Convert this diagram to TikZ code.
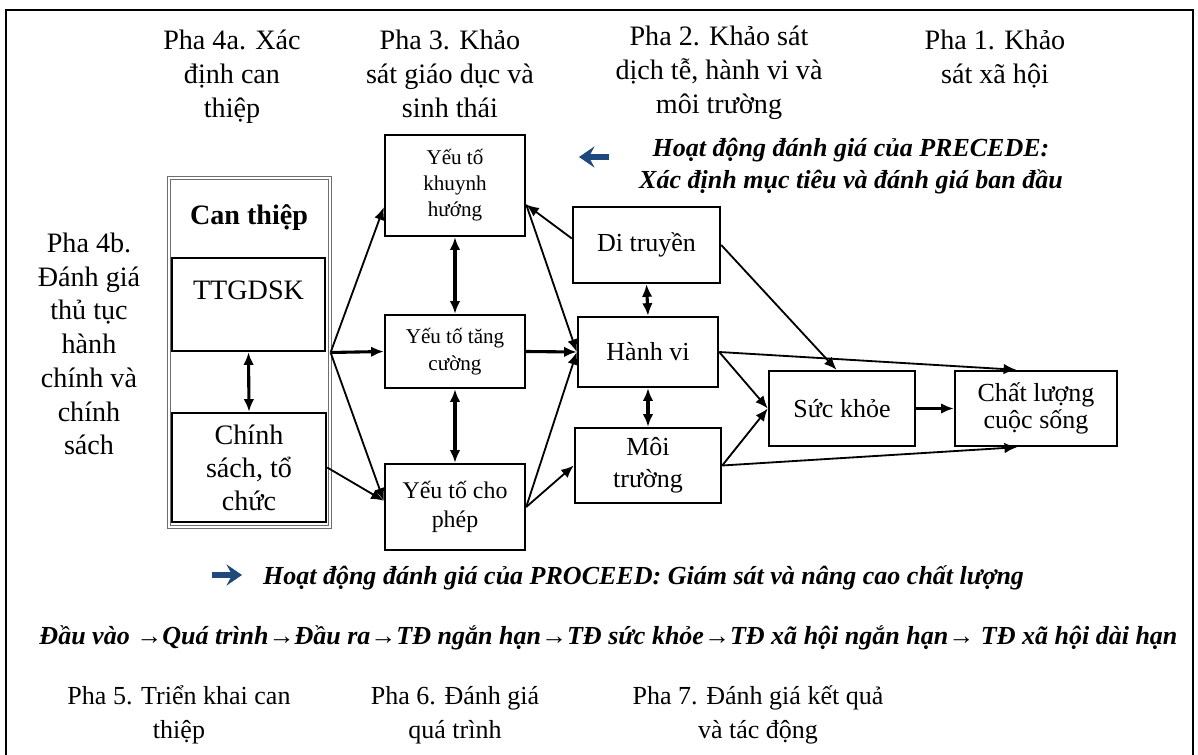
\documentclass[tikz,border=0pt]{standalone}
\usepackage{fontspec}
\setmainfont{Liberation Serif}
\usepackage{xcolor}
\definecolor{Col1}{RGB}{31,73,125}
\definecolor{Col2}{RGB}{110,110,110}
\usepackage{tikz}
\usetikzlibrary{arrows.meta}
\tikzstyle{Box}=[draw=black,line width=1.7pt,inner sep=2pt,align=center,
font=\fontsize{18.5}{23}\selectfont]
\tikzstyle{SmallBox}=[Box,font=\fontsize{15}{18.5}\selectfont]
\tikzstyle{Frame}=[draw=Col2,double,double distance=1.4pt,line width=0.8pt]
\tikzstyle{Edge}=[draw=black,line width=1.3pt,-{Latex[length=9pt,width=7.5pt]}]
\tikzstyle{EdgeThick}=[Edge,line width=2.2pt]
\tikzstyle{EdgeBoth}=[EdgeThick,{Latex[length=9pt,width=7.5pt]}-{Latex[length=9pt,width=7.5pt]}]
\tikzstyle{BlueArrow}=[draw=Col1,line width=3.6pt,-{Stealth[length=11pt,width=15pt,inset=4pt]}]
\tikzstyle{Phase}=[align=center,font=\fontsize{20}{24.3}\selectfont]
\tikzstyle{PhaseLow}=[align=center,font=\fontsize{18.5}{24}\selectfont]
\tikzstyle{Eval}=[align=center,font=\bfseries\itshape\fontsize{18.5}{22.7}\selectfont]

\begin{document}
\begin{tikzpicture}[x=0.025cm,y=-0.025cm]
            \useasboundingbox(0,0)rectangle(1198,755);
            \draw[line width=2pt](6,755)--(6,10)--(1193,10)--(1193,755);
            % phases of PRECEDE
            \node[Phase](pha4a)at(232,77){Pha 4a. Xác\\định can\\thiệp};
            \node[Phase](pha3)at(450,74){Pha 3. Khảo\\sát giáo dục và\\sinh thái};
            \node[Phase](pha2)at(719,73){Pha 2. Khảo sát\\dịch tễ, hành vi và\\môi trường};
            \node[Phase](pha1)at(995,59){Pha 1. Khảo\\sát xã hội};
            \node[Phase,font=\fontsize{20}{24}\selectfont](pha4b)at(89,344)
                {Pha 4b.\\Đánh giá\\thủ tục\\hành\\chính và\\chính\\sách};
            \node[Eval](precede)at(851,166)
                {Hoạt động đánh giá của PRECEDE:\\Xác định mục tiêu và đánh giá ban đầu};
            \coordinate(bl1)at(609,157);
            \coordinate(bl2)at(579,157);
            \draw[BlueArrow](bl1)--(bl2);
            % intervention
            \node[Frame,minimum width=4.025cm,minimum height=8.725cm](canthiep)at(249.5,352.5){};
            \node[font=\bfseries\fontsize{20}{24}\selectfont](canthiepT)at(249,218){Can thiệp};
            \node[Box,font=\fontsize{20}{24}\selectfont,minimum width=3.825cm,
                minimum height=2.325cm](ttgdsk)at(248.5,304.5){TTGDSK\\[-4pt]};
            \node[Box,font=\fontsize{20}{23.4}\selectfont,minimum width=3.85cm,
                minimum height=2.725cm](chinhsach)at(249,467.5){Chính\\sách, tổ\\chức};
            % factors
            \node[SmallBox,minimum width=3.5cm,minimum height=2.525cm](ytkh)at(455,185.5)
                {Yếu tố\\khuynh\\hướng};
            \node[SmallBox,font=\fontsize{15}{19}\selectfont,minimum width=3.5cm,
                minimum height=1.825cm](yttc)at(455,351.5){Yếu tố tăng\\cường};
            \node[SmallBox,font=\fontsize{17}{21}\selectfont,minimum width=3.5cm,
                minimum height=2.15cm](ytcp)at(455,507){Yếu tố cho\\phép};
            \node[Box,minimum width=3.675cm,minimum height=1.9cm](ditruyen)at(646.5,245){Di truyền};
            \node[Box,minimum width=3.5cm,minimum height=1.75cm](hanhvi)at(648,352){Hành vi};
            \node[Box,minimum width=3.65cm,minimum height=1.875cm](moitruong)at(648,465.5)
                {Môi\\trường};
            \node[Box,minimum width=3.65cm,minimum height=1.875cm](suckhoe)at(842,408.5){Sức khỏe};
            \node[Box,font=\fontsize{18.5}{19.5}\selectfont,minimum width=4.05cm,
                minimum height=1.875cm](chatluong)at(1036,408.5){Chất lượng\\cuộc sống};
            % connectors
            \draw[Edge](canthiep.east)--(ytkh.197);
            \draw[EdgeThick](canthiep.east)--(yttc.west);
            \draw[Edge](canthiep.east)--(ytcp.175);
            \draw[Edge](chinhsach.east)--(ytcp.175);
            \draw[EdgeBoth](ttgdsk.south)--(chinhsach.north);
            \draw[EdgeBoth](ytkh.south)--(yttc.north);
            \draw[EdgeBoth](yttc.south)--(ytcp.north);
            \draw[EdgeThick](yttc.east)--(hanhvi.west);
            \draw[Edge](ditruyen.175)--(ytkh.-15);
            \draw[Edge](ytkh.-15)--(hanhvi.west);
            \draw[Edge](ytcp.east)--(hanhvi.west);
            \draw[Edge](ytcp.east)--(moitruong.west);
            \draw[EdgeBoth](ditruyen.south)--(hanhvi.north);
            \draw[EdgeBoth](hanhvi.south)--(moitruong.north);
            \draw[Edge](ditruyen.east)--(suckhoe.98);
            \draw[Edge](hanhvi.east)--(chatluong.117);
            \draw[Edge](hanhvi.east)--(suckhoe.west);
            \draw[Edge](moitruong.east)--(suckhoe.west);
            \draw[Edge](moitruong.east)--(chatluong.-116);
            \draw[EdgeThick](suckhoe.east)--(chatluong.west);
            % PROCEED
            \coordinate(br1)at(212,575);
            \coordinate(br2)at(242,575);
            \draw[BlueArrow](br1)--(br2);
            \node[Eval](proceed)at(643.5,578)
                {Hoạt động đánh giá của PROCEED: Giám sát và nâng cao chất lượng};
            \node[Eval](chain)at(608.5,638)
                {Đầu vào →Quá trình→Đầu ra→TĐ ngắn hạn→TĐ sức khỏe→TĐ xã hội ngắn hạn→ TĐ xã hội dài hạn};
            \node[PhaseLow](pha5)at(179,715){Pha 5. Triển khai can\\thiệp};
            \node[PhaseLow](pha6)at(455,715){Pha 6. Đánh giá\\quá trình};
            \node[PhaseLow](pha7)at(758,715){Pha 7. Đánh giá kết quả\\và tác động};
        \end{tikzpicture}
\end{document}
